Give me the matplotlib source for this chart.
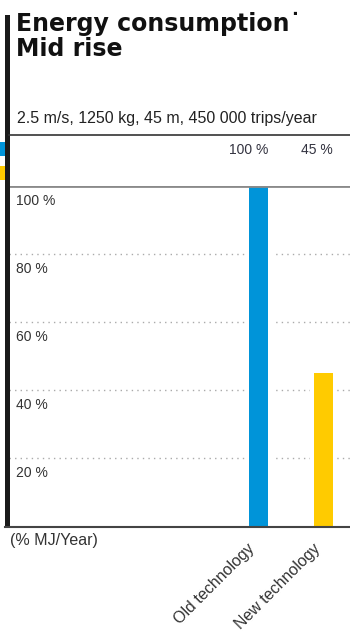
import matplotlib
matplotlib.use("Agg")
import matplotlib.pyplot as plt
from matplotlib.patches import Rectangle
from matplotlib.lines import Line2D

plt.rcParams['font.family'] = ['Liberation Sans', 'DejaVu Sans']

# data
categories = ["Old technology", "New technology"]
values = [100, 45]
value_labels = ["100 %", "45 %"]
colors = ["#0094d9", "#ffcb00"]
grid_ticks = [20, 40, 60, 80]
tick_labels = ["20 %", "40 %", "60 %", "80 %", "100 %"]
tick_values = [20, 40, 60, 80, 100]
title = "Energy consumption\u02d9\nMid rise"
subtitle = "2.5 m/s, 1250 kg, 45 m, 450 000 trips/year"
unit_label = "(% MJ/Year)"

W, H = 350, 640
fig = plt.figure(figsize=(W / 100, H / 100), dpi=100)

def fx(px):
    return px / W

def fy(py):
    return 1 - py / H

# plot area: x 9..350 px, y 186..526 px
ax = fig.add_axes([fx(9), fy(526), 1 - fx(9), fy(186) - fy(526)])
ax.set_ylim(0, 100)
ax.set_xlim(-3.838, 1.408)
for s in ax.spines.values():
    s.set_visible(False)
ax.set_xticks([])
ax.set_yticks([])

# dotted grid
for g in grid_ticks:
    ax.axhline(g, color="#aaaaaa", lw=1.0, ls=(0, (1, 3)), zorder=1)

bar_w = 0.29
xs = list(range(len(categories)))
# white halo behind the bars so the grid stops short of them
ax.bar(xs, values, width=0.41, color="white", zorder=2)
ax.bar(xs, values, width=bar_w, color=colors, zorder=3)

# top reference line at 100
ax.axhline(100, color="#8a8a8a", lw=2.0, zorder=4)

# tick labels inside the plot, under each gridline
for v, lab in zip(tick_values, tick_labels):
    ax.annotate(lab, xy=(0, v), xycoords=("axes fraction", "data"),
                xytext=(5, -6), textcoords="offset points",
                ha="left", va="top", fontsize=10, color="#333333")

# category labels
for x, lab in zip(xs, categories):
    ax.annotate(lab, xy=(x, 0), xycoords="data",
                xytext=(-8, -11), textcoords="offset points",
                ha="right", va="top", rotation=45, rotation_mode="anchor",
                fontsize=11.5, color="#333333")

# value labels in the header band, right edge on the bar's right edge
for x, lab in zip(xs, value_labels):
    ax.annotate(lab, xy=(x + bar_w / 2, 100), xycoords="data",
                xytext=(0, 26), textcoords="offset points",
                ha="right", va="center", fontsize=10, color="#333340")

# baseline
fig.add_artist(Line2D([fx(5), 1], [fy(526.5), fy(526.5)], color="#444444", lw=1.5))
# header line
fig.add_artist(Line2D([fx(9), 1], [fy(134.5), fy(134.5)], color="#333333", lw=1.2))
# left black bar
fig.add_artist(Rectangle((fx(5), fy(526)), fx(4.5), fy(15) - fy(526),
                         transform=fig.transFigure, color="#1a1a1a", lw=0))
# legend swatches
fig.add_artist(Rectangle((0, fy(156)), fx(5), fy(142) - fy(156),
                         transform=fig.transFigure, color=colors[0], lw=0))
fig.add_artist(Rectangle((0, fy(180)), fx(5), fy(166) - fy(180),
                         transform=fig.transFigure, color=colors[1], lw=0))

fig.text(fx(16), fy(12), title, ha="left", va="top", fontsize=17,
         fontweight="heavy", family="DejaVu Sans", color="#111111",
         linespacing=1.05)
fig.text(fx(17), fy(119), subtitle, ha="left", va="center", fontsize=11.5,
         color="#222222")
fig.text(fx(10), fy(540), unit_label, ha="left", va="center", fontsize=11.5,
         color="#333333")

fig.savefig("out.png", dpi=100)
